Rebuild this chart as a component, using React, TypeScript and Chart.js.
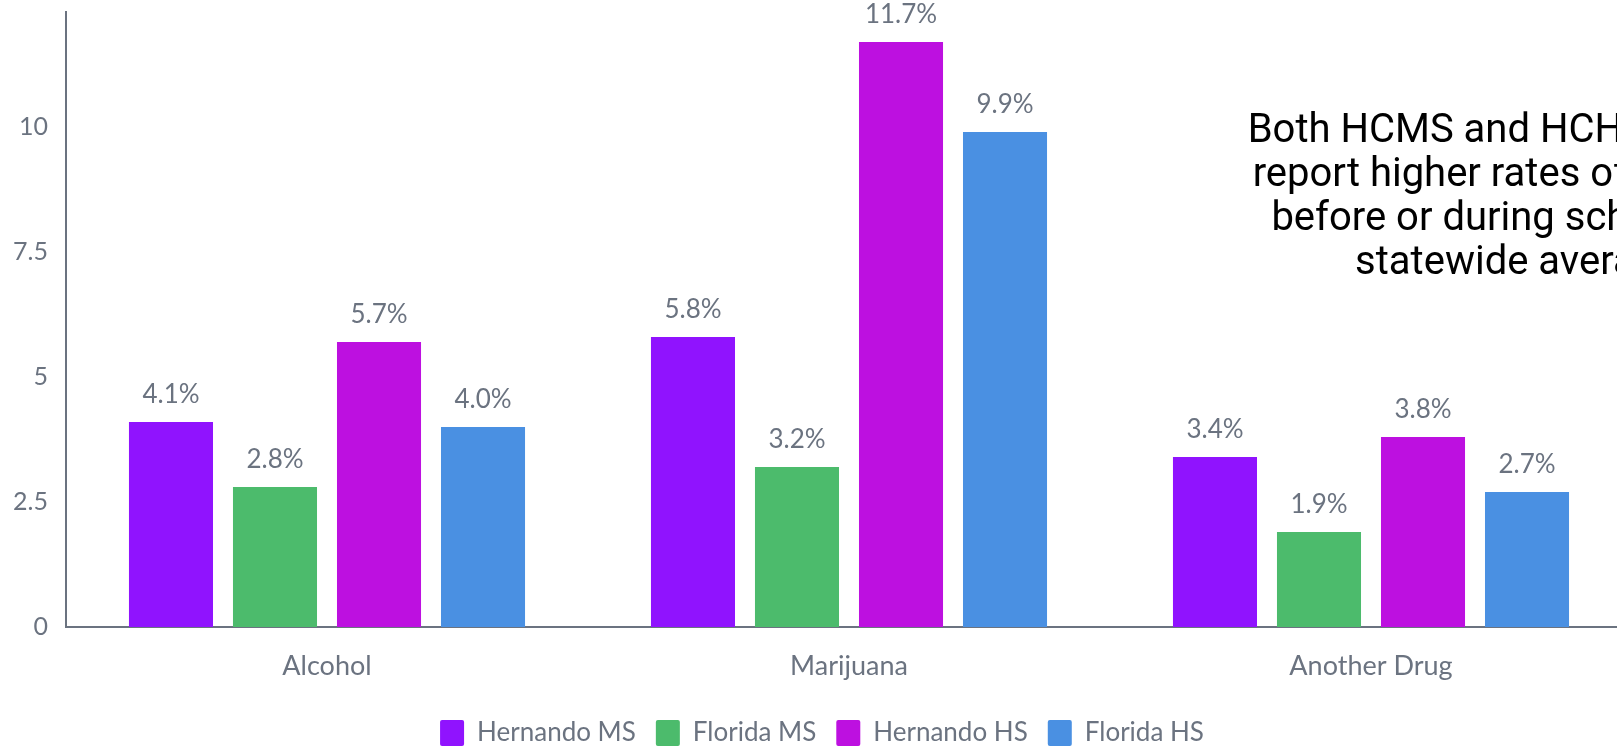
import React, { useEffect, useRef } from 'react';
import { Chart, registerables } from 'chart.js';

Chart.register(...registerables);

const categories = ['Alcohol', 'Marijuana', 'Another Drug'];
const seriesNames = ['Hernando MS', 'Florida MS', 'Hernando HS', 'Florida HS'];
const hernandoMS = [4.1, 5.8, 3.4];
const floridaMS = [2.8, 3.2, 1.9];
const hernandoHS = [5.7, 11.7, 3.8];
const floridaHS = [4.0, 9.9, 2.7];
const seriesColors = ['#9013FE', '#4CBB6C', '#BD10E0', '#4A90E2'];
const yTicks = [0, 2.5, 5, 7.5, 10];
const yMax = 12.3;
const noteLines = [
  'Both HCMS and HCHS schools',
  'report higher rates of drug use',
  'before or during school than',
  'statewide average.',
];

const GRAY = '#6b7380';

const valueLabels = {
  id: 'valueLabels',
  afterDatasetsDraw(chart: any) {
    const ctx = chart.ctx;
    ctx.save();
    ctx.font = '26px Lato';
    ctx.fillStyle = GRAY;
    ctx.textAlign = 'center';
    ctx.textBaseline = 'middle';
    chart.data.datasets.forEach((ds: any, i: number) => {
      const meta = chart.getDatasetMeta(i);
      meta.data.forEach((el: any, j: number) => {
        ctx.fillText(ds.data[j].toFixed(1) + '%', el.x, el.y - 27);
      });
    });
    ctx.restore();
  },
};

const note = {
  id: 'note',
  afterDraw(chart: any) {
    const ctx = chart.ctx;
    ctx.save();
    ctx.font = '40px Roboto';
    ctx.fillStyle = '#000000';
    ctx.textAlign = 'center';
    ctx.textBaseline = 'alphabetic';
    noteLines.forEach((line, i) => {
      ctx.fillText(line, 1522, 142 + i * 44);
    });
    ctx.restore();
  },
};

export default function App() {
  const ref = useRef<HTMLCanvasElement | null>(null);
  useEffect(() => {
    if (!ref.current) return;
    const seriesData = [hernandoMS, floridaMS, hernandoHS, floridaHS];
    const chart = new Chart(ref.current, {
      type: 'bar',
      data: {
        labels: categories,
        datasets: seriesNames.map((name, i) => ({
          label: name,
          data: seriesData[i],
          backgroundColor: seriesColors[i],
          borderWidth: 0,
          categoryPercentage: 0.797,
          barPercentage: 0.808,
        })),
      },
      options: {
        animation: false,
        responsive: true,
        maintainAspectRatio: false,
        font: { family: 'Lato' },
        layout: { padding: { top: 12, left: 12, right: 12, bottom: 0 } },
        plugins: {
          tooltip: { enabled: false },
          legend: {
            position: 'bottom',
            labels: {
              boxWidth: 24,
              boxHeight: 26,
              padding: 20,
              color: GRAY,
              font: { family: 'Lato', size: 26 },
              useBorderRadius: true,
              borderRadius: 2,
            },
          },
        },
        scales: {
          x: {
            grid: { display: false, drawTicks: false },
            border: { display: true, color: GRAY, width: 2 },
            ticks: { color: GRAY, font: { family: 'Lato', size: 27 }, padding: 23 },
            afterFit: (s: any) => {
              s.height = 73;
              s.paddingLeft = 0;
              s.paddingRight = 0;
            },
          },
          y: {
            min: 0,
            max: yMax,
            grid: { display: false, drawTicks: false },
            border: { display: true, color: GRAY, width: 2 },
            ticks: { color: GRAY, font: { family: 'Lato', size: 25 }, padding: 18 },
            afterBuildTicks: (s: any) => {
              s.ticks = yTicks.map((v) => ({ value: v }));
            },
            afterFit: (s: any) => {
              s.width = 54;
              s.paddingTop = 0;
              s.paddingBottom = 0;
            },
          },
        },
      },
      plugins: [valueLabels, note],
    });
    return () => chart.destroy();
  }, []);

  return (
    <div style={{ position: 'fixed', left: 0, top: 0, width: '100vw', height: '100vh', overflow: 'hidden', background: '#fff' }}>
      <div style={{ position: 'absolute', left: 0, top: 0, width: 1644, height: 756 }}>
        <canvas ref={ref} />
      </div>
    </div>
  );
}
